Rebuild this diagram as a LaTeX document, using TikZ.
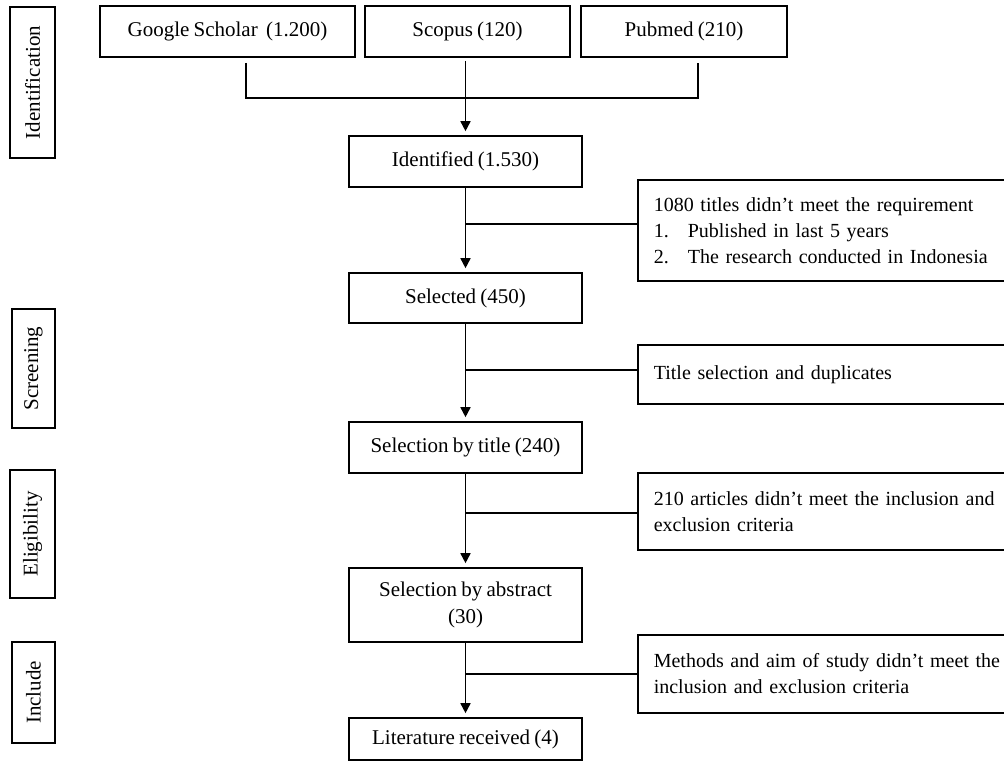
\documentclass[tikz,border=0pt]{standalone}
\usepackage{fontspec}
\setmainfont{Liberation Serif}
\newfontfamily\sidefont{Liberation Serif}[Ligatures=TeX, WordSpace=0.8]
\usetikzlibrary{calc,arrows.meta}
\tikzset{
  txt/.style={font=\fontsize{21}{26}\selectfont},
  box/.style={draw, line width=1.6pt, txt, inner sep=0pt, align=center},
  mainbox/.style={box, minimum width=233pt},
  sidebox/.style={draw, line width=1.6pt, font=\sidefont\fontsize{20}{26}\selectfont, anchor=west, inner xsep=16pt, inner ysep=0pt, text width=420pt, align=left},
  phase/.style={box, rotate=90},
  conn/.style={line width=1.6pt},
  arr/.style={conn, -{Triangle[width=10pt,length=10pt]}, shorten >=4pt},
}
\begin{document}
\begin{tikzpicture}[x=1pt,y=-1pt]
\useasboundingbox (0,0) rectangle (1004,762);
\clip (0,0) rectangle (1004,762);
% phase labels
\node[phase, minimum width=151pt, minimum height=45pt] (ph1) at (32.5,82.5) {Identification};
\node[phase, minimum width=119pt, minimum height=43pt] (ph2) at (33.5,368.5) {Screening};
\node[phase, minimum width=128pt, minimum height=45pt] (ph3) at (32.5,534) {Eligibility};
\node[phase, minimum width=101pt, minimum height=43pt] (ph4) at (33.5,692.5) {Include};
% sources
\node[box, minimum width=255pt, minimum height=51pt] (gs) at (227.5,31.5) {Google Scholar\ \ (1.200)};
\node[box, minimum width=205pt, minimum height=51pt] (sc) at (467.5,31.5) {Scopus (120)};
\node[box, minimum width=206pt, minimum height=51pt] (pm) at (684,31.5) {Pubmed (210)};
% main chain
\node[mainbox, minimum height=51pt] (id) at (465.5,161.5) {Identified (1.530)};
\node[mainbox, minimum height=50pt] (se) at (465.5,298) {Selected (450)};
\node[mainbox, minimum height=51pt] (st) at (465.5,447.5) {Selection by title (240)};
\node[mainbox, minimum height=74pt, font=\fontsize{21}{27}\selectfont] (sa) at (465.5,605) {Selection by abstract\\(30)};
\node[mainbox, minimum height=42pt] (lr) at (465.5,739) {Literature received (4)};
% side boxes
\node[sidebox, minimum height=101pt] (r1) at (637,230.5) {1080 titles didn't meet the requirement\\
\makebox[34pt][l]{1.}Published in last 5 years\\
\makebox[34pt][l]{2.}The research conducted in Indonesia};
\node[sidebox, minimum height=59pt] (r2) at (637,374.5) {Title selection and duplicates};
\node[sidebox, minimum height=77pt] (r3) at (637,511.5) {210 articles didn't meet the inclusion and\\exclusion criteria};
\node[sidebox, minimum height=78pt] (r4) at (637,674) {Methods and aim of study didn't meet the\\inclusion and exclusion criteria};
% source merge
\coordinate (gsd) at ($(gs.south)+(18.5,5)$);
\coordinate (pmd) at ($(pm.south)+(14,5)$);
\coordinate (mg) at (246,98);
\draw[conn] (gsd) |- (pmd |- mg) -- (pmd);
\coordinate (scd) at ($(sc.south -| id.north)+(0,3)$);
\draw[arr] (scd) -- (id.north);
% chain arrows
\draw[arr] (id.south) -- (se.north);
\draw[arr] (se.south) -- (st.north);
\draw[arr] (st.south) -- (sa.north);
\draw[arr] (sa.south) -- (lr.north);
% side connectors
\coordinate (j1) at (465.5,224);
\coordinate (j2) at (465.5,370);
\coordinate (j3) at (465.5,513);
\coordinate (j4) at (465.5,674);
\draw[conn] (j1) -- (j1 -| r1.west);
\draw[conn] (j2) -- (j2 -| r2.west);
\draw[conn] (j3) -- (j3 -| r3.west);
\draw[conn] (j4) -- (j4 -| r4.west);
\end{tikzpicture}
\end{document}
